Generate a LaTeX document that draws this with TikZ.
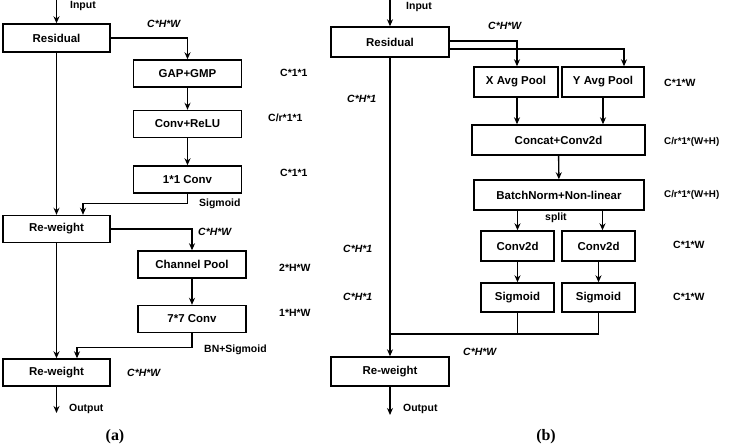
\documentclass[tikz,border=0pt]{standalone}
\usepackage{fontspec}
\setmainfont{Liberation Sans}
\newfontfamily\capfont{Liberation Serif}
\usetikzlibrary{arrows.meta}
\begin{document}
\begin{tikzpicture}[x=1bp,y=-1bp,
  every node/.style={font=\fontsize{11.5}{13}\selectfont\bfseries, inner sep=0pt},
  box/.style={draw, line width=1.4bp, rectangle, minimum height=27bp},
  lab/.style={anchor=west, font=\fontsize{10.5}{12}\selectfont\bfseries},
  ilab/.style={anchor=west, font=\fontsize{10.5}{12}\selectfont\bfseries\itshape},
  conn/.style={line width=1.4bp},
  arr/.style={conn, -{Stealth[length=7bp,width=6bp]}},
  captxt/.style={font=\fontsize{16}{18}\selectfont\capfont\bfseries}]
\useasboundingbox (0,0) rectangle (729,446);

% ---------------- panel (a) ----------------
\coordinate (inA) at (56.5,0);
\coordinate (outA) at (56.5,413);
\node[box, minimum width=107bp, minimum height=28bp] (resA) at (56.5,38) {Residual};
\node[box, minimum width=108bp] (gap) at (187.5,73.5) {GAP+GMP};
\node[box, minimum width=108bp] (convrelu) at (187.5,124) {Conv+ReLU};
\node[box, minimum width=108bp] (conv11) at (187.5,179.5) {1*1 Conv};
\node[box, minimum width=107bp] (rw1) at (56.5,229) {Re-weight};
\node[box, minimum width=108bp] (cpool) at (192,264.5) {Channel Pool};
\node[box, minimum width=108bp] (conv77) at (192,319) {7*7 Conv};
\node[box, minimum width=107bp] (rw2) at (56.5,372.5) {Re-weight};

\draw[arr] (inA) -- (resA.north);
\draw[arr] (resA.east) -| (gap.north);
\draw[arr] (gap) -- (convrelu);
\draw[arr] (convrelu) -- (conv11);
\draw[arr] (conv11.south) -- ++(0,10) -| ([xshift=26.5bp]rw1.north);
\draw[arr] (resA.south) -- (rw1.north);
\draw[arr] (rw1.east) -| (cpool.north);
\draw[arr] (cpool) -- (conv77);
\draw[arr] (conv77.south) -- ++(0,14) -| ([xshift=20.5bp]rw2.north);
\draw[arr] (rw1.south) -- (rw2.north);
\draw[arr] (rw2.south) -- (outA);

\node[lab] (tInA) at (70,6) {Input};
\node[ilab] (tA1) at (147,24) {C*H*W};
\node[lab] (tA2) at (280,73) {C*1*1};
\node[lab] (tA3) at (268,118) {C/r*1*1};
\node[lab] (tA4) at (280,173) {C*1*1};
\node[lab] (tA5) at (199,204) {Sigmoid};
\node[ilab] (tA6) at (198,232) {C*H*W};
\node[lab] (tA7) at (279,268) {2*H*W};
\node[lab] (tA8) at (279,313) {1*H*W};
\node[lab] (tA9) at (204,350) {BN+Sigmoid};
\node[ilab] (tA10) at (127,373) {C*H*W};
\node[lab] (tOutA) at (69,409) {Output};
\node[captxt] (capA) at (115,437) {(a)};

% ---------------- panel (b) ----------------
\coordinate (inB) at (390,0);
\coordinate (outB) at (390,415);
\coordinate (join) at (390,334);
\node[box, minimum width=118bp, minimum height=30bp] (resB) at (390,42) {Residual};
\node[box, minimum width=84bp, minimum height=30bp] (xpool) at (516,82) {X Avg Pool};
\node[box, minimum width=82bp, minimum height=30bp] (ypool) at (603,82) {Y Avg Pool};
\node[box, minimum width=173bp, minimum height=30bp] (concat) at (558.5,140) {Concat+Conv2d};
\node[box, minimum width=170bp, minimum height=30bp] (bn) at (559,195) {BatchNorm+Non-linear};
\node[box, minimum width=73bp, minimum height=30bp] (c2l) at (517.5,246) {Conv2d};
\node[box, minimum width=73bp, minimum height=30bp] (c2r) at (598.5,246) {Conv2d};
\node[box, minimum width=73bp, minimum height=29bp] (sgl) at (517.5,297.5) {Sigmoid};
\node[box, minimum width=73bp, minimum height=29bp] (sgr) at (598.5,297.5) {Sigmoid};
\node[box, minimum width=118bp, minimum height=29bp] (rwB) at (390,371.5) {Re-weight};

\draw[arr] (inB) -- (resB.north);
\draw[arr] ([yshift=-7bp]resB.east) -| ([xshift=21bp]ypool.north);
\draw[arr] ([yshift=1bp]resB.east) -| ([xshift=1bp]xpool.north);
\draw[arr] ([xshift=1bp]xpool.south) -- ([xshift=1bp]xpool.south |- concat.north);
\draw[arr] (ypool.south) -- (ypool.south |- concat.north);
\draw[arr] (concat) -- (bn);
\draw[arr] (bn.south -| c2l.north) -- (c2l.north);
\draw[arr] ([xshift=4bp]bn.south -| c2r.north) -- ([xshift=4bp]c2r.north);
\draw[arr] (c2l) -- (sgl);
\draw[arr] (c2r) -- (sgr);
\draw[conn] (sgl.south) -- (sgl.south |- join);
\draw[conn] (sgr.south) -- (sgr.south |- join) -- (join);
\draw[arr] (resB.south) -- (rwB.north);
\draw[arr] (rwB.south) -- (outB);

\node[lab] (tInB) at (406,7) {Input};
\node[ilab] (tB1) at (488,26) {C*H*W};
\node[ilab] (tB2) at (347,99) {C*H*1};
\node[lab] (tB3) at (664,83) {C*1*W};
\node[lab, font=\fontsize{9.8}{11}\selectfont\bfseries] (tB4) at (664,142) {C/r*1*(W+H)};
\node[lab, font=\fontsize{9.8}{11}\selectfont\bfseries] (tB5) at (664,195) {C/r*1*(W+H)};
\node[lab] (tB6) at (545,218) {split};
\node[ilab] (tB7) at (343,249) {C*H*1};
\node[lab] (tB8) at (673,245) {C*1*W};
\node[ilab] (tB9) at (343,297) {C*H*1};
\node[lab] (tB10) at (673,297) {C*1*W};
\node[ilab] (tB11) at (463,352) {C*H*W};
\node[lab] (tOutB) at (403,409) {Output};
\node[captxt] (capB) at (546,437) {(b)};
\end{tikzpicture}
\end{document}
